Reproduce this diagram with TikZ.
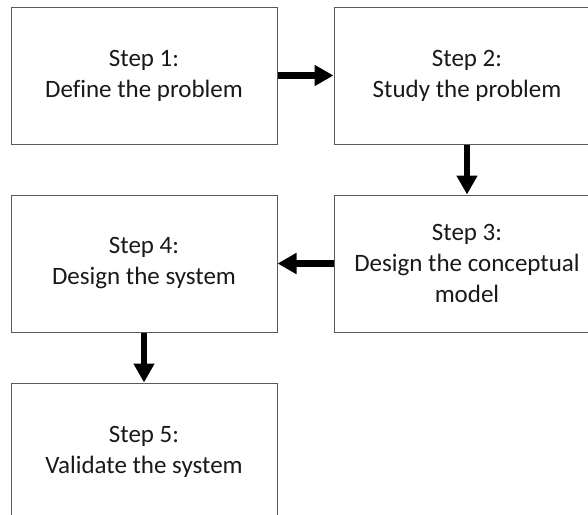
\documentclass[tikz,border=0pt]{standalone}
\usepackage{fontspec}
\setmainfont[Ligatures=NoCommon]{Carlito}
\usetikzlibrary{arrows.meta,positioning}

\begin{document}
\begin{tikzpicture}[x=1pt, y=-1pt, font=\fontsize{25}{31}\selectfont, node distance=50pt and 56pt,
  stepbox/.style={draw=black!65, line width=1pt, align=center, minimum width=266pt, minimum height=137pt, inner sep=0pt, text=black!90},
  flow/.style={line width=6.5pt, -{Triangle[width=20pt,length=19pt]}}]
\useasboundingbox (0,0) rectangle (588,514);
\node[stepbox] (s1) at (144,75.5) {Step 1:\\Define the problem};
\node[stepbox, right=of s1] (s2) {Step 2:\\Study the problem};
\node[stepbox, below=of s2] (s3) {Step 3:\\Design the conceptual\\model};
\node[stepbox, left=of s3] (s4) {Step 4:\\Design the system};
\node[stepbox, below=of s4] (s5) {Step 5:\\Validate the system};
\draw[flow] (s1)--(s2); \draw[flow] (s2)--(s3);
\draw[flow] (s3)--(s4); \draw[flow] (s4)--(s5);
\end{tikzpicture}
\end{document}
